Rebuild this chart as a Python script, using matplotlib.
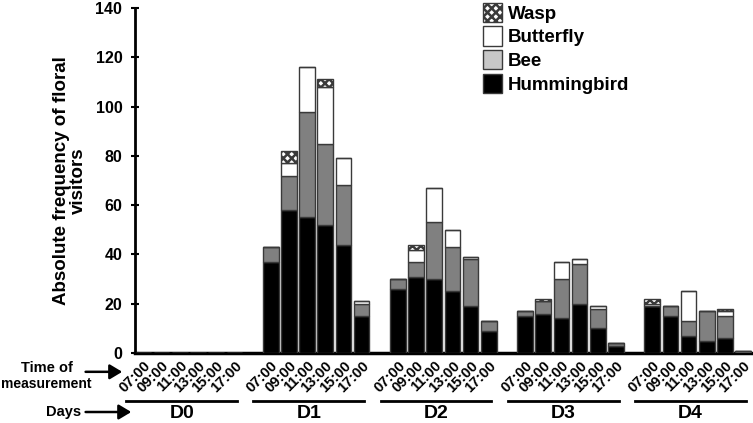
import matplotlib.pyplot as plt
from matplotlib.patches import Patch, FancyArrowPatch
import numpy as np

plt.rcParams["font.family"] = ["Liberation Sans", "DejaVu Sans"]
plt.rcParams["font.weight"] = "bold"
plt.rcParams["hatch.linewidth"] = 1.8

DAYS = ["D0", "D1", "D2", "D3", "D4"]
TIMES = ["07:00", "09:00", "11:00", "13:00", "15:00", "17:00"]

# counts per day, one value per time slot
hummingbird = [
    [0, 0, 0, 0, 0, 0],
    [37, 58, 55, 52, 44, 15],
    [26, 31, 30, 25, 19, 9],
    [15, 16, 14, 20, 10, 3],
    [19, 15, 7, 5, 6, 0],
]
bee = [
    [0, 0, 0, 0, 0, 0],
    [6, 14, 43, 33, 24, 5],
    [4, 6, 23, 18, 19, 4],
    [2, 5, 16, 16, 8, 1],
    [0, 4, 6, 12, 9, 1],
]
butterfly = [
    [0, 0, 0, 0, 0, 0],
    [0, 5, 18, 23, 11, 1],
    [0, 5, 14, 7, 1, 0],
    [0, 0, 7, 2, 1, 0],
    [1, 0, 12, 0, 2, 0],
]
wasp = [
    [0, 0, 0, 0, 0, 0],
    [0, 5, 0, 3, 0, 0],
    [0, 2, 0, 0, 0, 0],
    [0, 1, 0, 0, 0, 0],
    [2, 0, 0, 0, 1, 0],
]

EDGE = "#3a3a3a"
BEE_BAR, BEE_LEG = "#808080", "#c8c8c8"

fig = plt.figure(figsize=(7.53, 4.23), dpi=100)
ax = fig.add_axes([0.179, 0.1655, 0.82, 0.8155])

n = len(TIMES)
pitch = n + 1
xs, labels = [], []
for d in range(len(DAYS)):
    for k in range(n):
        xs.append(d * pitch + k)
        labels.append(TIMES[k])
xs = np.array(xs)

h = np.array(hummingbird).ravel()
b = np.array(bee).ravel()
bu = np.array(butterfly).ravel()
w = np.array(wasp).ravel()

width = 0.86
kw = dict(width=width, edgecolor=EDGE, linewidth=1.0, zorder=3)
ax.bar(xs, h, color="black", **kw)
ax.bar(xs, b, bottom=h, color=BEE_BAR, **kw)
ax.bar(xs, bu, bottom=h + b, color="white", **kw)
ax.bar(xs, w, bottom=h + b + bu, color="white", hatch="xxxx", **kw)

ax.set_xlim(-0.48, 33.5)
ax.set_ylim(0, 140)
ax.set_yticks(range(0, 141, 20))
ax.tick_params(axis="y", direction="inout", length=6, width=1.5, labelsize=11.5, pad=6)
ax.set_xticks(xs, labels, rotation=45, ha="right", rotation_mode="anchor",
              fontsize=10.5)
ax.tick_params(axis="x", length=0, pad=4)
ax.spines[["top", "right"]].set_visible(False)
ax.spines["left"].set_linewidth(2)
ax.spines["bottom"].set_linewidth(2.5)
ax.set_ylabel("Absolute frequency of floral\nvisitors", fontsize=13.5,
              fontweight="bold", labelpad=6, linespacing=1.0)

# day group rules and labels under the time labels
for d, day in enumerate(DAYS):
    x0 = d * pitch - 0.95
    x1 = d * pitch + 5.15
    ax.plot([x0, x1], [-19.5, -19.5], color="black", lw=2, clip_on=False)
    ax.text((x0 + x1) / 2, -24.5, day, ha="center", va="center",
            fontsize=14, fontweight="bold", clip_on=False)

fig.text(0.062, 0.131, "Time of", ha="center", va="center", fontsize=10.5)
fig.text(0.061, 0.093, "measurement", ha="center", va="center", fontsize=10)
fig.text(0.085, 0.026, "Days", ha="center", va="center", fontsize=10.5)
for (x0, x1, y) in [(0.110, 0.166, 0.121), (0.110, 0.178, 0.026)]:
    fig.patches.append(FancyArrowPatch(
        (x0, y), (x1, y), transform=fig.transFigure,
        arrowstyle="-|>,head_length=5,head_width=3", lw=1.8, color="black",
        mutation_scale=1.5))

handles = [
    Patch(facecolor="white", edgecolor=EDGE, hatch="xxxx", label="Wasp"),
    Patch(facecolor="white", edgecolor=EDGE, label="Butterfly"),
    Patch(facecolor=BEE_LEG, edgecolor=EDGE, label="Bee"),
    Patch(facecolor="black", edgecolor=EDGE, label="Hummingbird"),
]
ax.legend(handles=handles, loc="upper left", bbox_to_anchor=(0.552, 1.037),
          frameon=False, fontsize=13.5, handlelength=1.0, handleheight=1.2,
          handletextpad=0.3, labelspacing=0.2, borderaxespad=0)

fig.savefig("out.png", dpi=100)
